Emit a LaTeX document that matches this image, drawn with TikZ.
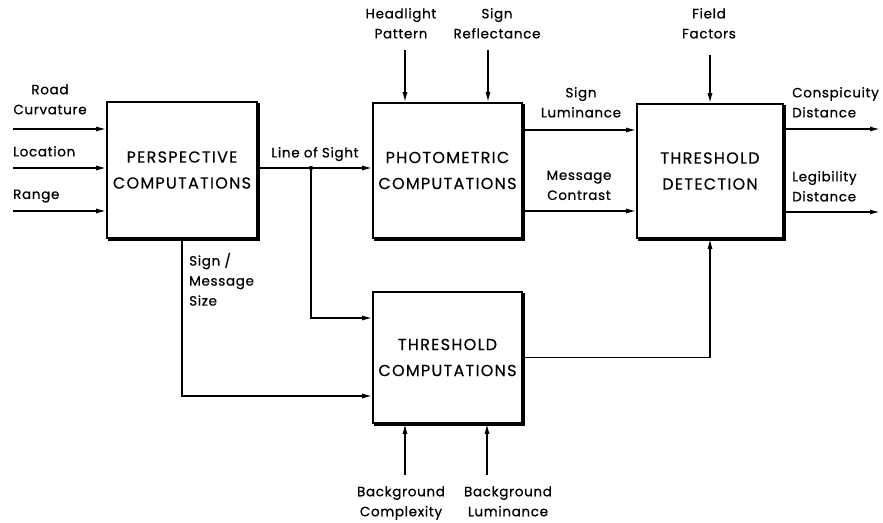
\documentclass[tikz,border=0pt]{standalone}
\usepackage{fontspec}
\setmainfont{Poppins}
\newfontfamily\boxfont{Poppins}[LetterSpace=8,FakeBold=0.4]
\newfontfamily\lblfont{Poppins}[LetterSpace=5,FakeBold=0.6]
\usetikzlibrary{arrows.meta}
\tikzset{
  blk/.style={draw, line width=1.6pt, minimum width=#1, inner sep=0pt,
    align=center, font=\boxfont\fontsize{16}{26}\selectfont},
  shade/.style={line width=3pt, line cap=rect},
  arr/.style={line width=1.4pt, -{Latex[length=10pt,width=5pt]}},
  lbl/.style={inner sep=0pt, align=center, text depth=3.5pt, font=\lblfont\fontsize{13.5}{20}\selectfont},
}
\begin{document}
\begin{tikzpicture}[x=1pt,y=-1pt]
\useasboundingbox (0,0) rectangle (883,522);
% boxes
\node[blk=150pt, minimum height=136pt] (p) at (182,170) {PERSPECTIVE\\COMPUTATIONS};
\node[blk=149pt, minimum height=135pt] (ph) at (447.5,170.5) {PHOTOMETRIC\\COMPUTATIONS};
\node[blk=146pt, minimum height=134pt] (d) at (710,171) {THRESHOLD\\DETECTION};
\node[blk=149pt, minimum height=131pt] (tc) at (447.5,357.5) {THRESHOLD\\COMPUTATIONS};
\foreach \b in {p,ph,d,tc}{
  \draw[shade] ([shift={(1,3)}]\b.north east) -- ([shift={(1,1)}]\b.south east) -- ([shift={(3,1)}]\b.south west);
}
% inputs to perspective
\coordinate (in1) at (13,129);
\coordinate (in2) at (13,168);
\coordinate (in3) at (13,211);
\draw[arr] (in1) -- (in1 -| p.west);
\draw[arr] (in2) -- (in2 -| p.west);
\draw[arr] (in3) -- (in3 -| p.west);
\node[lbl] (lrc) at (50,101) {Road\\Curvature};
\node[lbl, anchor=west] (lloc) at (13,153) {Location};
\node[lbl, anchor=west] (lrng) at (13,196) {Range};
% line of sight
\coordinate (los) at (311,168);
\draw[arr] (p.east |- los) -- (ph.west |- los);
\fill (los) circle (2.2pt);
\node[lbl] (llos) at (315,154) {Line of Sight};
\coordinate (tcin1) at ([yshift=39.5pt]tc.west);
\draw[arr] (los) |- (tcin1);
% sign/message size
\coordinate (tcin2) at ([yshift=-38.5pt]tc.west);
\draw[arr] (p.south) |- (tcin2);
\node[lbl, align=left, anchor=west] (lsms) at (189,281) {Sign /\\Message\\Size};
% top inputs to photometric
\coordinate (hl) at (405,50);
\coordinate (sr) at (488,50);
\draw[arr] (hl) -- (hl |- ph.north);
\draw[arr] (sr) -- (sr |- ph.north);
\node[lbl] (lhl) at (401,25) {Headlight\\Pattern};
\node[lbl] (lsr) at (497,25) {Sign\\Reflectance};
% photometric to detection
\coordinate (sl) at ([yshift=40.5pt]ph.east);
\coordinate (mc) at ([yshift=-40.5pt]ph.east);
\draw[arr] (sl) -- (sl -| d.west);
\draw[arr] (mc) -- (mc -| d.west);
\node[lbl] (lsl) at (581,104) {Sign\\Luminance};
\node[lbl] (lmc) at (579,187) {Message\\Contrast};
% field factors
\coordinate (ff) at (710,55);
\draw[arr] (ff) -- (d.north);
\node[lbl] (lff) at (709,25) {Field\\Factors};
% outputs
\coordinate (o1) at (880,129);
\coordinate (o2) at (880,212);
\draw[arr] (o1 -| d.east) -- (o1);
\draw[arr] (o2 -| d.east) -- (o2);
\node[lbl, align=left, anchor=west] (lcd) at (792,104) {Conspicuity\\Distance};
\node[lbl, align=left, anchor=west] (lld) at (792,188) {Legibility\\Distance};
% threshold computations to detection
\draw[arr] (tc.east) -| (d.south);
% bottom inputs
\coordinate (bc) at (405,475);
\coordinate (bl) at (487,475);
\draw[arr] (bc) -- (bc |- tc.south);
\draw[arr] (bl) -- (bl |- tc.south);
\node[lbl] (lbc) at (401,503) {Background\\Complexity};
\node[lbl] (lbl) at (508,503) {Background\\Luminance};
\end{tikzpicture}
\end{document}
